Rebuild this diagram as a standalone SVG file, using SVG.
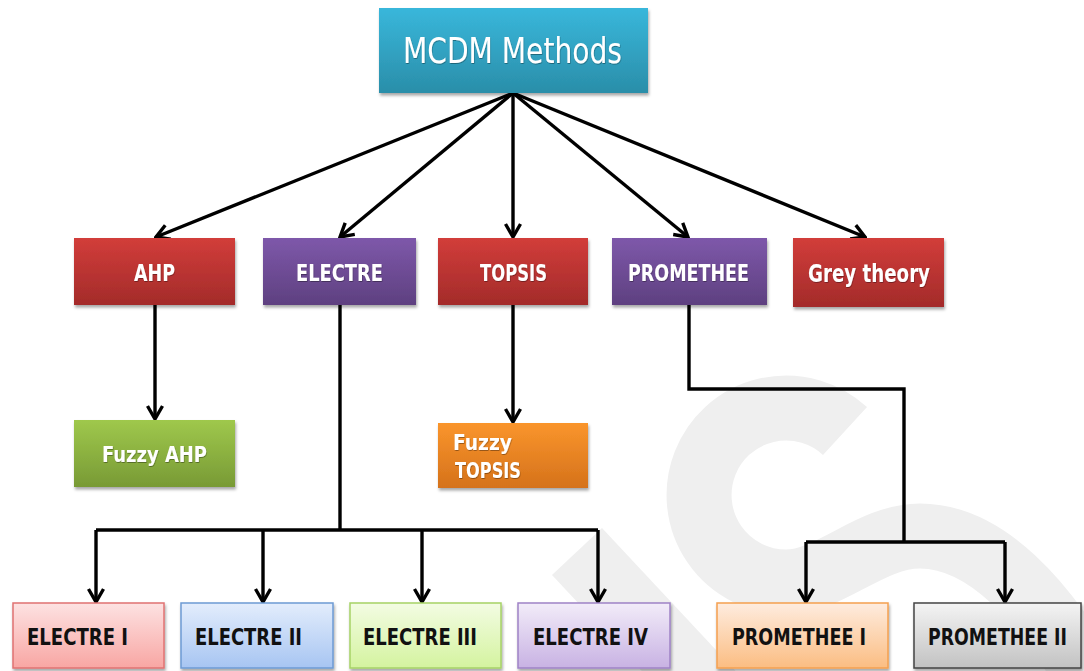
<svg xmlns="http://www.w3.org/2000/svg" width="1084" height="671" viewBox="0 0 1084 671">
<defs>
<style>
.lbl{font-family:"DejaVu Sans Condensed","DejaVu Sans","Liberation Sans",sans-serif;font-weight:bold;font-size:23px;fill:#fff;}
.dk{fill:#111;}
.con{fill:none;stroke:#000;stroke-width:3.4;stroke-linejoin:miter;}
.arr{marker-end:url(#ah);}
.box{filter:url(#sh);}
.wm{fill:none;stroke:#efefef;}
</style>
<marker id="ah" markerUnits="userSpaceOnUse" viewBox="-16 -10 18 20" refX="0" refY="0" markerWidth="18" markerHeight="20" orient="auto">
<path d="M-13,-7.5 L0,0 L-13,7.5" fill="none" stroke="#000" stroke-width="3.4" stroke-linejoin="miter"/>
</marker>
<filter id="sh" x="-10%" y="-10%" width="120%" height="130%">
<feDropShadow dx="1" dy="2.5" stdDeviation="1.8" flood-color="#000" flood-opacity="0.35"/>
</filter>
<filter id="ts" x="-5%" y="-20%" width="110%" height="140%">
<feDropShadow dx="0.5" dy="1" stdDeviation="0.6" flood-color="#000" flood-opacity="0.35"/>
</filter>
<linearGradient id="gTeal" x1="0" y1="0" x2="0" y2="1"><stop offset="0" stop-color="#39b7db"/><stop offset="1" stop-color="#2a8ea9"/></linearGradient>
<linearGradient id="gRed" x1="0" y1="0" x2="0" y2="1"><stop offset="0" stop-color="#d23d3a"/><stop offset="1" stop-color="#a32b2a"/></linearGradient>
<linearGradient id="gPur" x1="0" y1="0" x2="0" y2="1"><stop offset="0" stop-color="#7e58aa"/><stop offset="1" stop-color="#5e4080"/></linearGradient>
<linearGradient id="gGrn" x1="0" y1="0" x2="0" y2="1"><stop offset="0" stop-color="#9fc84c"/><stop offset="1" stop-color="#789a35"/></linearGradient>
<linearGradient id="gOrg" x1="0" y1="0" x2="0" y2="1"><stop offset="0" stop-color="#fa952c"/><stop offset="1" stop-color="#d5721b"/></linearGradient>
<linearGradient id="gE1" x1="0" y1="0" x2="0" y2="1"><stop offset="0" stop-color="#fde2e2"/><stop offset="1" stop-color="#f8a6a3"/></linearGradient>
<linearGradient id="gE2" x1="0" y1="0" x2="0" y2="1"><stop offset="0" stop-color="#e3edfc"/><stop offset="1" stop-color="#a7c5f2"/></linearGradient>
<linearGradient id="gE3" x1="0" y1="0" x2="0" y2="1"><stop offset="0" stop-color="#f3fce3"/><stop offset="1" stop-color="#d4f39f"/></linearGradient>
<linearGradient id="gE4" x1="0" y1="0" x2="0" y2="1"><stop offset="0" stop-color="#f2ecf9"/><stop offset="1" stop-color="#c8b2e3"/></linearGradient>
<linearGradient id="gP1" x1="0" y1="0" x2="0" y2="1"><stop offset="0" stop-color="#feecdf"/><stop offset="1" stop-color="#fbbd82"/></linearGradient>
<linearGradient id="gP2" x1="0" y1="0" x2="0" y2="1"><stop offset="0" stop-color="#f4f4f4"/><stop offset="1" stop-color="#c2c2c2"/></linearGradient>
</defs>

<rect width="1084" height="671" fill="#fff"/>

<g id="watermark">
<path class="wm" stroke-width="65" stroke-linecap="butt" d="M845,431 A87,87 0 1 0 786,582 C830,582 870,536 920,536 C985,536 1045,600 1095,690"/>
<polygon points="552,575 602,528 802,742 752,789" fill="#efefef"/>
</g>

<g id="connectors">
<path class="con arr" d="M513,93 L156,237"/>
<path class="con arr" d="M513,93 L340,237"/>
<path class="con arr" d="M513,93 L513,237"/>
<path class="con arr" d="M513,93 L688,237"/>
<path class="con arr" d="M513,93 L865,237"/>
<path class="con arr" d="M155,305 L155,419"/>
<path class="con arr" d="M513,305 L513,422"/>
<path class="con" d="M340,305 L340,530"/>
<path class="con" d="M96,530 L598,530"/>
<path class="con arr" d="M96,530 L96,602"/>
<path class="con arr" d="M263,530 L263,602"/>
<path class="con arr" d="M422,530 L422,602"/>
<path class="con arr" d="M598,530 L598,602"/>
<path class="con" d="M689,305 L689,389 L904,389 L904,542"/>
<path class="con" d="M806,542 L1005,542"/>
<path class="con arr" d="M806,542 L806,602"/>
<path class="con arr" d="M1005,542 L1005,602"/>
</g>

<g id="mcdm">
<rect class="box" x="379" y="8" width="269" height="85" fill="url(#gTeal)"/>
<text x="403" y="63" textLength="219" lengthAdjust="spacingAndGlyphs" style="font-family:'DejaVu Sans Condensed','DejaVu Sans',sans-serif;font-size:36px;fill:#fff" filter="url(#ts)">MCDM Methods</text>
</g>

<g id="ahp">
<rect class="box" x="74" y="238" width="161" height="67" fill="url(#gRed)"/>
<text class="lbl" x="134" y="281" textLength="41" lengthAdjust="spacingAndGlyphs" filter="url(#ts)">AHP</text>
</g>
<g id="electre">
<rect class="box" x="263" y="238" width="153" height="67" fill="url(#gPur)"/>
<text class="lbl" x="296" y="281" textLength="87" lengthAdjust="spacingAndGlyphs" filter="url(#ts)">ELECTRE</text>
</g>
<g id="topsis">
<rect class="box" x="438" y="238" width="150" height="67" fill="url(#gRed)"/>
<text class="lbl" x="480" y="281" textLength="67" lengthAdjust="spacingAndGlyphs" filter="url(#ts)">TOPSIS</text>
</g>
<g id="promethee">
<rect class="box" x="612" y="238" width="155" height="67" fill="url(#gPur)"/>
<text class="lbl" x="628" y="281" textLength="121" lengthAdjust="spacingAndGlyphs" filter="url(#ts)">PROMETHEE</text>
</g>
<g id="grey">
<rect class="box" x="793" y="238" width="151" height="69" fill="url(#gRed)"/>
<text class="lbl" x="808" y="282" textLength="122" lengthAdjust="spacingAndGlyphs" style="font-size:24px" filter="url(#ts)">Grey theory</text>
</g>

<g id="fuzzy-ahp">
<rect class="box" x="74" y="420" width="161" height="67" fill="url(#gGrn)"/>
<text class="lbl" x="102" y="462" textLength="105" lengthAdjust="spacingAndGlyphs" style="font-size:22px" filter="url(#ts)">Fuzzy AHP</text>
</g>
<g id="fuzzy-topsis">
<rect class="box" x="438" y="423" width="150" height="65" fill="url(#gOrg)"/>
<text class="lbl" x="453" y="450" textLength="59" lengthAdjust="spacingAndGlyphs" style="font-size:22px" filter="url(#ts)">Fuzzy</text>
<text class="lbl" x="455" y="478" textLength="66" lengthAdjust="spacingAndGlyphs" style="font-size:22px" filter="url(#ts)">TOPSIS</text>
</g>

<g id="electre-1">
<rect class="box" x="13" y="603" width="151" height="65" fill="url(#gE1)" stroke="#e07272" stroke-width="1.5"/>
<text class="lbl dk" x="27" y="645" textLength="101" lengthAdjust="spacingAndGlyphs">ELECTRE I</text>
</g>
<g id="electre-2">
<rect class="box" x="181" y="603" width="152" height="65" fill="url(#gE2)" stroke="#6d9ad4" stroke-width="1.5"/>
<text class="lbl dk" x="195" y="645" textLength="107" lengthAdjust="spacingAndGlyphs">ELECTRE II</text>
</g>
<g id="electre-3">
<rect class="box" x="350" y="603" width="151" height="65" fill="url(#gE3)" stroke="#a6d266" stroke-width="1.5"/>
<text class="lbl dk" x="363" y="645" textLength="114" lengthAdjust="spacingAndGlyphs">ELECTRE III</text>
</g>
<g id="electre-4">
<rect class="box" x="518" y="603" width="152" height="65" fill="url(#gE4)" stroke="#9f82c6" stroke-width="1.5"/>
<text class="lbl dk" x="533" y="645" textLength="115" lengthAdjust="spacingAndGlyphs">ELECTRE IV</text>
</g>
<g id="promethee-1">
<rect class="box" x="717" y="603" width="171" height="65" fill="url(#gP1)" stroke="#f5a04f" stroke-width="1.5"/>
<text class="lbl dk" x="732" y="645" textLength="134" lengthAdjust="spacingAndGlyphs">PROMETHEE I</text>
</g>
<g id="promethee-2">
<rect class="box" x="914" y="603" width="167" height="65" fill="url(#gP2)" stroke="#444" stroke-width="1.5"/>
<text class="lbl dk" x="928" y="645" textLength="139" lengthAdjust="spacingAndGlyphs">PROMETHEE II</text>
</g>
</svg>
